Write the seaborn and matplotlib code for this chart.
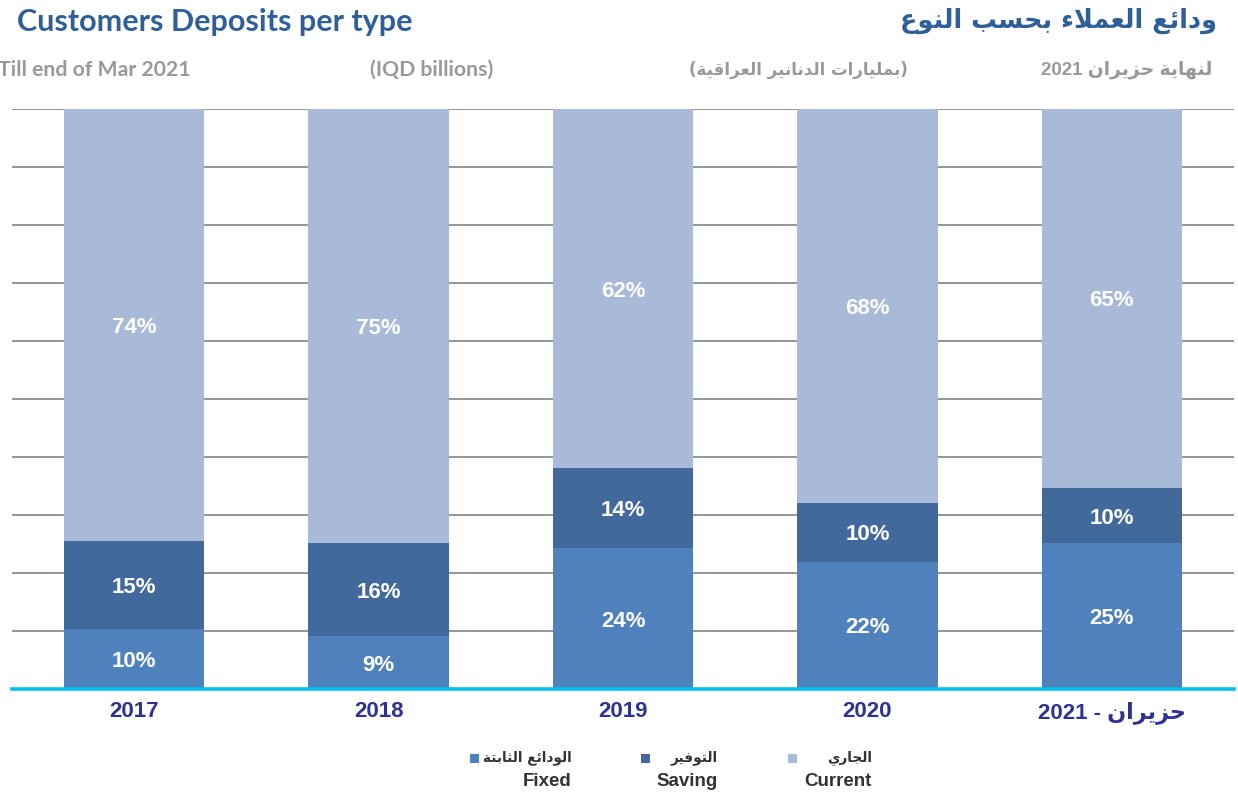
import re
import numpy as np
import pandas as pd
import matplotlib
matplotlib.use("Agg")
import matplotlib.pyplot as plt
from matplotlib.patches import Rectangle
import seaborn as sns

# ---------------- data ----------------
years = ["2017", "2018", "2019", "2020", "حزيران - 2021"]
fixed = [10.3, 9.1, 24.3, 21.9, 25.1]      # % share
saving = [15.3, 16.0, 13.8, 10.2, 9.6]
current = [74.4, 74.9, 61.9, 67.9, 65.3]

series_en = ["Fixed", "Saving", "Current"]
series_ar = ["الودائع الثابتة", "التوفير", "الجاري"]

title_en = "Customers Deposits per type"
title_ar = "ودائع العملاء بحسب النوع"
sub_en_left = "Till end of Mar 2021"
sub_en_mid = "(IQD billions)"
sub_ar_mid = "(بمليارات الدنانير العراقية)"
sub_ar_right = "لنهاية حزيران 2021"

C_FIXED = "#4F81BD"
C_SAVING = "#41699B"
C_CURRENT = "#A9B9D8"

# ---------------- minimal Arabic shaping ----------------
FORMS = {
    "\u0621": ("\uFE80", None, None, None),
    "\u0626": ("\uFE89", "\uFE8A", "\uFE8B", "\uFE8C"),
    "\u0627": ("\uFE8D", "\uFE8E", None, None),
    "\u0628": ("\uFE8F", "\uFE90", "\uFE91", "\uFE92"),
    "\u0629": ("\uFE93", "\uFE94", None, None),
    "\u062A": ("\uFE95", "\uFE96", "\uFE97", "\uFE98"),
    "\u062B": ("\uFE99", "\uFE9A", "\uFE9B", "\uFE9C"),
    "\u062C": ("\uFE9D", "\uFE9E", "\uFE9F", "\uFEA0"),
    "\u062D": ("\uFEA1", "\uFEA2", "\uFEA3", "\uFEA4"),
    "\u062F": ("\uFEA9", "\uFEAA", None, None),
    "\u0631": ("\uFEAD", "\uFEAE", None, None),
    "\u0632": ("\uFEAF", "\uFEB0", None, None),
    "\u0633": ("\uFEB1", "\uFEB2", "\uFEB3", "\uFEB4"),
    "\u0639": ("\uFEC9", "\uFECA", "\uFECB", "\uFECC"),
    "\u0641": ("\uFED1", "\uFED2", "\uFED3", "\uFED4"),
    "\u0642": ("\uFED5", "\uFED6", "\uFED7", "\uFED8"),
    "\u0644": ("\uFEDD", "\uFEDE", "\uFEDF", "\uFEE0"),
    "\u0645": ("\uFEE1", "\uFEE2", "\uFEE3", "\uFEE4"),
    "\u0646": ("\uFEE5", "\uFEE6", "\uFEE7", "\uFEE8"),
    "\u0647": ("\uFEE9", "\uFEEA", "\uFEEB", "\uFEEC"),
    "\u0648": ("\uFEED", "\uFEEE", None, None),
    "\u064A": ("\uFEF1", "\uFEF2", "\uFEF3", "\uFEF4"),
    "LA": ("\uFEFB", "\uFEFC", None, None),
}


def shape_ar(s):
    chars = []
    i = 0
    while i < len(s):
        if s[i] == "\u0644" and i + 1 < len(s) and s[i + 1] == "\u0627":
            chars.append("LA")
            i += 2
        else:
            chars.append(s[i])
            i += 1
    out = []
    for k, ch in enumerate(chars):
        if ch not in FORMS:
            out.append(ch)
            continue
        iso, fin, ini, med = FORMS[ch]
        prev = chars[k - 1] if k > 0 else None
        nxt = chars[k + 1] if k + 1 < len(chars) else None
        join_prev = prev in FORMS and FORMS[prev][2] is not None and fin is not None
        join_next = nxt in FORMS and FORMS[nxt][1] is not None and ini is not None
        if join_prev and join_next:
            out.append(med)
        elif join_prev:
            out.append(fin)
        elif join_next:
            out.append(ini)
        else:
            out.append(iso)
    vis = "".join(out)[::-1]
    vis = vis.translate(str.maketrans("()", ")("))
    vis = re.sub(r"[0-9]+", lambda m: m.group()[::-1], vis)
    return vis


def has_ar(s):
    return any("\u0600" <= c <= "\u06FF" for c in s)


def vis(s):
    return shape_ar(s) if has_ar(s) else s


# ---------------- figure ----------------
W, H = 1238, 797
fig = plt.figure(figsize=(W / 100, H / 100), dpi=100)
sns.set_style("white")
plt.rcParams["font.family"] = ["Liberation Sans", "DejaVu Sans"]

ax_l, ax_r, ax_b, ax_t = 12, 1234, 689, 109
ax = fig.add_axes([ax_l / W, 1 - ax_b / H, (ax_r - ax_l) / W, (ax_b - ax_t) / H])

labels_vis = [vis(y) for y in years]
df = pd.DataFrame({
    "year": labels_vis,
    "fixed": fixed,
    "saving": saving,
    "current": current,
})
df["top_saving"] = df["fixed"] + df["saving"]
df["top_current"] = df["top_saving"] + df["current"]

bw = 0.574
sns.barplot(data=df, x="year", y="top_current", color=C_CURRENT, saturation=1,
            width=bw, ax=ax, linewidth=0, zorder=2)
sns.barplot(data=df, x="year", y="top_saving", color=C_SAVING, saturation=1,
            width=bw, ax=ax, linewidth=0, zorder=3)
sns.barplot(data=df, x="year", y="fixed", color=C_FIXED, saturation=1,
            width=bw, ax=ax, linewidth=0, zorder=4)

ax.set_ylim(0, 100)
ax.set_xlim(-0.5, len(years) - 0.5)
ax.set_yticks(np.arange(10, 101, 10))
ax.yaxis.grid(True, color="#8C8C8C", linewidth=1.3, zorder=0)
ax.set_axisbelow(True)
ax.tick_params(axis="y", left=False, labelleft=False)
ax.tick_params(axis="x", bottom=False, pad=5)
for sp in ["left", "right", "top"]:
    ax.spines[sp].set_visible(False)
ax.spines["bottom"].set_color("#00C0F0")
ax.spines["bottom"].set_linewidth(2.6)
ax.spines["bottom"].set_zorder(6)
ax.set_xlabel("")
ax.set_ylabel("")
for t in ax.get_xticklabels():
    t.set_fontsize(16)
    t.set_fontweight("bold")
    t.set_color("#2E3192")

# segment labels
for i in range(len(years)):
    segs = [(0, fixed[i]), (fixed[i], saving[i]), (fixed[i] + saving[i], current[i])]
    for b, h in segs:
        ax.text(i, b + h / 2, f"{h:.0f}%", ha="center", va="center_baseline",
                color="white", fontsize=16, fontweight="bold", zorder=7)

# ---------------- titles ----------------
def fx(x):
    return x / W


def fy(y):
    return 1 - y / H


fig.text(fx(17), fy(22), title_en, ha="left", va="center", fontsize=22,
         fontweight="bold", color="#2F5F98", family=["Lato", "DejaVu Sans"])
fig.text(fx(1217), fy(21), vis(title_ar), ha="right", va="center", fontsize=18.4,
         fontweight="bold", color="#2F5F98", family=["DejaVu Sans"])
gray = "#999999"
fig.text(fx(-2), fy(70), sub_en_left, ha="left", va="center", fontsize=15.3,
         fontweight="bold", color=gray, family=["Lato", "DejaVu Sans"])
fig.text(fx(370), fy(70), sub_en_mid, ha="left", va="center", fontsize=15.3,
         fontweight="bold", color=gray, family=["Lato", "DejaVu Sans"])
fig.text(fx(908), fy(70), vis(sub_ar_mid), ha="right", va="center", fontsize=12,
         fontweight="bold", color=gray, family=["DejaVu Sans"])
fig.text(fx(1212), fy(70), vis(sub_ar_right), ha="right", va="center", fontsize=13.5,
         fontweight="bold", color=gray, family=["Liberation Sans", "DejaVu Sans"])

# ---------------- legend ----------------
leg_colors = [C_FIXED, C_SAVING, C_CURRENT]
marker_x = [470, 641, 788]
text_right = [572, 718, 872]
for k in range(3):
    fig.patches.append(Rectangle((fx(marker_x[k]), fy(763)), 9 / W, 9 / H,
                                 transform=fig.transFigure, facecolor=leg_colors[k],
                                 edgecolor="none"))
    fig.text(fx(text_right[k]), fy(758), vis(series_ar[k]), ha="right", va="center",
             fontsize=9.8, fontweight="bold", color="#333333", family=["DejaVu Sans"])
    fig.text(fx(text_right[k]), fy(782), series_en[k], ha="right", va="center",
             fontsize=13.5, fontweight="bold", color="#333333")

fig.savefig("out.png", dpi=100)
